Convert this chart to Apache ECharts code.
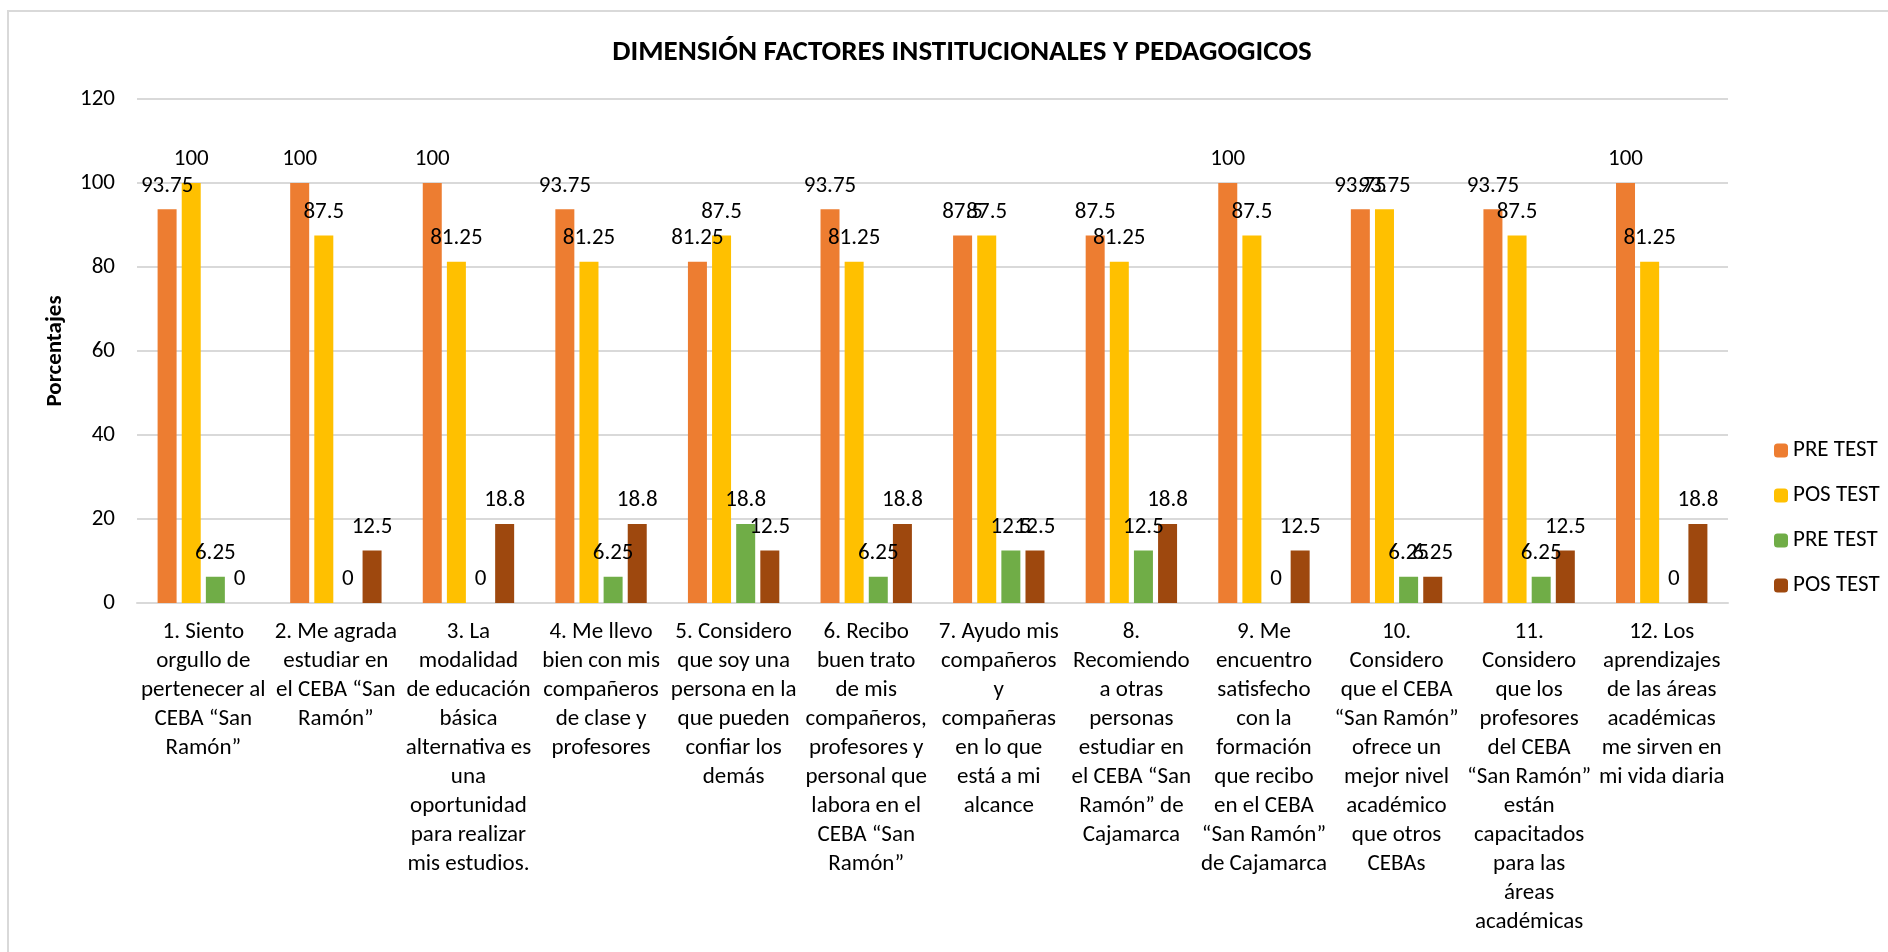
<!DOCTYPE html>
<html>
<head>
<meta charset="utf-8">
<title>Dimensión factores institucionales y pedagógicos</title>
<script src="https://cdn.jsdelivr.net/npm/echarts@6/dist/echarts.min.js"></script>
<style>
  html, body { margin: 0; padding: 0; background: #fff; }
  #chart { width: 1888px; height: 952px; }
</style>
</head>
<body>
<div id="chart"></div>
<script>
// datos del gráfico
var categorias = [
    '1. Siento\norgullo de\npertenecer al\nCEBA “San\nRamón”',
    '2. Me agrada\nestudiar en\nel CEBA “San\nRamón”',
    '3. La\nmodalidad\nde educación\nbásica\nalternativa es\nuna\noportunidad\npara realizar\nmis estudios.',
    '4. Me llevo\nbien con mis\ncompañeros\nde clase y\nprofesores',
    '5. Considero\nque soy una\npersona en la\nque pueden\nconfiar los\ndemás',
    '6. Recibo\nbuen trato\nde mis\ncompañeros,\nprofesores y\npersonal que\nlabora en el\nCEBA “San\nRamón”',
    '7. Ayudo mis\ncompañeros\ny\ncompañeras\nen lo que\nestá a mi\nalcance',
    '8.\nRecomiendo\na otras\npersonas\nestudiar en\nel CEBA “San\nRamón” de\nCajamarca',
    '9. Me\nencuentro\nsatisfecho\ncon la\nformación\nque recibo\nen el CEBA\n“San Ramón”\nde Cajamarca',
    '10.\nConsidero\nque el CEBA\n“San Ramón”\nofrece un\nmejor nivel\nacadémico\nque otros\nCEBAs',
    '11.\nConsidero\nque los\nprofesores\ndel CEBA\n“San Ramón”\nestán\ncapacitados\npara las\náreas\nacadémicas',
    '12. Los\naprendizajes\nde las áreas\nacadémicas\nme sirven en\nmi vida diaria'
];
var preTest1 = [93.75, 100, 100, 93.75, 81.25, 93.75, 87.5, 87.5, 100, 93.75, 93.75, 100];
var posTest1 = [100, 87.5, 81.25, 81.25, 87.5, 81.25, 87.5, 81.25, 87.5, 93.75, 87.5, 81.25];
var preTest2 = [6.25, 0, 0, 6.25, 18.8, 6.25, 12.5, 12.5, 0, 6.25, 6.25, 0];
var posTest2 = [0, 12.5, 18.8, 18.8, 12.5, 18.8, 12.5, 18.8, 12.5, 6.25, 12.5, 18.8];
// los nombres se repiten en la leyenda; el espacio final los hace distintos
var nombres = ['PRE TEST', 'POS TEST', 'PRE TEST ', 'POS TEST '];
var colores = ['#ED7D31', '#FFC000', '#70AD47', '#9E480E'];

var fuente = 'Carlito, Calibri, "Liberation Sans Narrow", "Open Sans", sans-serif';

var myChart = echarts.init(document.getElementById('chart'));

function serie(i, datos) {
    return {
        name: nombres[i],
        type: 'bar',
        data: datos,
        barWidth: 19,
        barGap: '27%',
        itemStyle: { color: colores[i] },
        label: {
            show: true,
            position: 'top',
            distance: 12,
            color: '#000',
            fontFamily: fuente,
            fontSize: 23
        }
    };
}

var option = {
    animation: false,
    backgroundColor: '#fff',
    textStyle: { fontFamily: fuente },
    title: {
        text: 'DIMENSIÓN FACTORES INSTITUCIONALES Y PEDAGOGICOS',
        left: 957,
        textAlign: 'center',
        top: 33,
        textStyle: { fontFamily: fuente, fontSize: 29, fontWeight: 'bold', color: '#000' }
    },
    legend: {
        data: nombres.slice(),
        orient: 'vertical',
        left: 1769,
        top: 434,
        itemWidth: 14,
        itemHeight: 14,
        itemGap: 22,
        textStyle: { fontFamily: fuente, fontSize: 23, color: '#000' }
    },
    grid: { left: 137, right: 160, top: 99, bottom: 349, containLabel: false },
    xAxis: {
        type: 'category',
        data: categorias,
        axisTick: { show: false },
        axisLine: { lineStyle: { color: '#D9D9D9', width: 2 } },
        axisLabel: {
            interval: 0,
            margin: 15,
            color: '#000',
            fontFamily: fuente,
            fontSize: 23,
            lineHeight: 29,
            align: 'center'
        }
    },
    yAxis: {
        type: 'value',
        min: 0,
        max: 120,
        interval: 20,
        name: 'Porcentajes',
        nameLocation: 'middle',
        nameGap: 70,
        nameRotate: 90,
        nameTextStyle: { fontFamily: fuente, fontSize: 23, fontWeight: 'bold', color: '#000' },
        axisLabel: { margin: 22, color: '#000', fontFamily: fuente, fontSize: 23 },
        splitLine: { lineStyle: { color: '#D9D9D9', width: 2 } }
    },
    series: [
        serie(0, preTest1),
        serie(1, posTest1),
        serie(2, preTest2),
        serie(3, posTest2)
    ],
    graphic: [{
        type: 'rect',
        shape: { x: 8, y: 11, width: 1900, height: 960 },
        style: { fill: 'none', stroke: '#D9D9D9', lineWidth: 2 },
        silent: true
    }]
};

myChart.setOption(option);
</script>
</body>
</html>
